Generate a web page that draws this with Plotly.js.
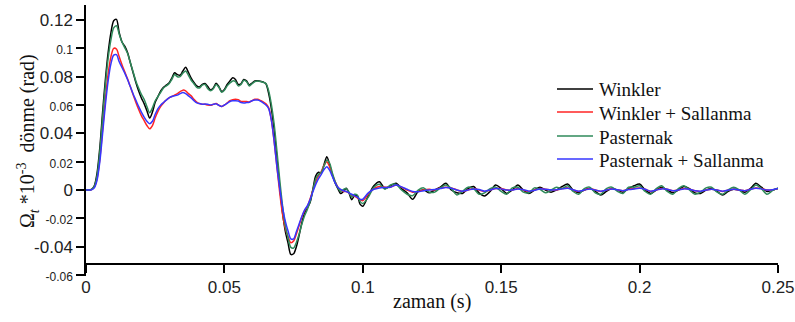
<!DOCTYPE html>
<html>
<head>
<meta charset="utf-8">
<script src="https://cdn.plot.ly/plotly-3.0.1.min.js"></script>
<style>html,body{margin:0;padding:0;background:#fff;}</style>
</head>
<body>
<div id="chart"></div>
<script>
// time (s), early part (step 0.001)
const timeEarly = [0,0.001,0.002,0.003,0.004,0.005,0.006,0.007,0.008,0.009,
0.010,0.011,0.012,0.013,0.014,0.015,0.016,0.017,0.018,0.019,
0.020,0.021,0.022,0.023,0.024,0.025,0.026,0.027,0.028,0.029,
0.030,0.031,0.032,0.033,0.034,0.035,0.036,0.037,0.038,0.039,
0.040,0.041,0.042,0.043,0.044,0.045,0.046,0.047,0.048,0.049,
0.050,0.051,0.052,0.053,0.054,0.055,0.056,0.057,0.058,0.059,
0.060,0.061,0.062,0.063,0.064,0.065,0.066,0.067,0.068,0.069,
0.070,0.071,0.072,0.073,0.074,0.075,0.076,0.077,0.078,0.079,
0.080,0.081,0.082,0.083,0.084,0.085,0.086,0.087,0.088,0.089,
0.090,0.091,0.092,0.093,0.094,0.095,0.096,0.097,0.098,0.099,0.100];
// time (s), tail part (step 0.002)
const timeTail = [0.102,0.104,0.106,0.108,0.110,0.112,0.114,0.116,0.118,0.120,
0.122,0.124,0.126,0.128,0.130,0.132,0.134,0.136,0.138,0.140,
0.142,0.144,0.146,0.148,0.150,0.152,0.154,0.156,0.158,0.160,
0.162,0.164,0.166,0.168,0.170,0.172,0.174,0.176,0.178,0.180,
0.182,0.184,0.186,0.188,0.190,0.192,0.194,0.196,0.198,0.200,
0.202,0.204,0.206,0.208,0.210,0.212,0.214,0.216,0.218,0.220,
0.222,0.224,0.226,0.228,0.230,0.232,0.234,0.236,0.238,0.240,
0.242,0.244,0.246,0.248,0.250];

const winklerEarly = [0,0,0.0005,0.003,0.012,0.030,0.055,0.078,0.097,0.111,
0.1195,0.1205,0.111,0.1045,0.1015,0.097,0.090,0.083,0.076,0.070,
0.065,0.061,0.056,0.0508,0.055,0.062,0.066,0.070,0.0725,0.074,
0.0755,0.079,0.0828,0.0815,0.081,0.084,0.0866,0.083,0.079,0.076,
0.0735,0.0728,0.0745,0.0752,0.073,0.0706,0.072,0.0753,0.073,0.0695,
0.071,0.0745,0.077,0.0792,0.078,0.0745,0.075,0.078,0.077,0.0742,
0.0755,0.077,0.0772,0.0768,0.0762,0.075,0.068,0.057,0.042,0.022,
0.002,-0.016,-0.029,-0.0375,-0.0455,-0.045,-0.040,-0.032,-0.023,-0.016,
-0.0125,-0.0085,0.001,0.010,0.0125,0.012,0.018,0.0235,0.018,0.0105,
0.005,0.001,-0.0025,-0.001,0.0012,-0.002,-0.0068,-0.004,-0.004,-0.010,-0.0115];
const winklerTail = [-0.004,0.003,0.0058,0.001,0.003,0.0047,0.001,-0.002,-0.0066,-0.001,
0.000,-0.002,0.000,0.002,0.0047,0.000,-0.002,-0.0024,0.001,0.0025,
-0.002,-0.0042,-0.001,0.0035,0.001,-0.0024,0.000,0.0035,0.000,-0.0024,
0.000,0.002,0.000,-0.0015,0.000,0.0025,0.0042,0.000,-0.002,0.000,
0.001,-0.001,-0.0035,-0.001,0.001,0.000,-0.0015,0.001,0.003,0.0042,
0.000,-0.0024,0.000,0.002,0.000,-0.002,0.000,0.0025,0.001,-0.002,
-0.0024,0.000,0.001,-0.001,-0.0035,-0.001,0.0005,0.000,-0.0015,0.001,
0.0047,0.002,-0.001,0.000,0.001];

const winklerSEarly = [0,0,0.0003,0.002,0.008,0.022,0.043,0.064,0.082,0.094,
0.100,0.0995,0.094,0.0885,0.0835,0.0785,0.073,0.0675,0.062,0.057,
0.0525,0.049,0.0455,0.0432,0.0455,0.051,0.0555,0.059,0.0615,0.0635,
0.065,0.066,0.067,0.068,0.0695,0.0705,0.070,0.068,0.0665,0.064,
0.062,0.061,0.0605,0.0605,0.060,0.0598,0.0605,0.061,0.0598,0.059,
0.060,0.0615,0.063,0.0638,0.064,0.0638,0.0625,0.0625,0.0625,0.0622,
0.063,0.064,0.064,0.0632,0.0622,0.0608,0.058,0.049,0.034,0.016,
-0.002,-0.017,-0.027,-0.033,-0.0372,-0.036,-0.031,-0.025,-0.019,-0.0145,
-0.0115,-0.006,0.000,0.006,0.010,0.013,0.0175,0.020,0.0165,0.011,
0.006,0.002,0.000,-0.001,-0.001,-0.002,-0.004,-0.0045,-0.0055,-0.007,-0.0075];
const winklerSTail = [-0.003,0.001,0.0025,0.002,0.002,0.0035,0.002,0.000,-0.0015,-0.001,
0.000,0.0005,0.000,0.0015,0.002,0.0015,0.000,-0.001,0.000,0.001,
0.000,-0.001,0.000,0.001,0.001,0.000,0.000,0.001,0.000,-0.001,
0.000,0.001,0.0005,0.000,0.000,0.001,0.0015,0.000,-0.001,0.000,
0.001,0.000,-0.001,0.000,0.001,0.000,-0.0005,0.0005,0.001,0.0015,
0.0005,-0.001,0.000,0.001,0.0005,-0.0005,0.000,0.001,0.0005,-0.0005,
-0.001,0.000,0.0005,0.000,-0.001,0.000,0.0005,0.000,-0.0005,0.0005,
0.0015,0.001,0.000,0.000,0.001];

const pasternakEarly = [0,0,0.0004,0.0025,0.010,0.027,0.051,0.074,0.093,0.106,
0.1145,0.116,0.110,0.1045,0.1005,0.0965,0.090,0.0835,0.077,0.072,
0.0675,0.064,0.059,0.0545,0.058,0.063,0.066,0.069,0.072,0.0735,
0.075,0.078,0.0815,0.080,0.080,0.0825,0.084,0.081,0.0775,0.075,
0.0725,0.072,0.074,0.0745,0.0715,0.070,0.0715,0.0745,0.0725,0.069,
0.0705,0.0735,0.0755,0.077,0.0765,0.0735,0.0745,0.0775,0.0765,0.0735,
0.075,0.0765,0.077,0.0765,0.076,0.0752,0.070,0.060,0.046,0.027,
0.007,-0.011,-0.025,-0.034,-0.0405,-0.041,-0.037,-0.031,-0.024,-0.018,
-0.0135,-0.008,0.000,0.008,0.011,0.0125,0.017,0.021,0.019,0.012,
0.006,0.0015,-0.001,0.0005,0.001,-0.0015,-0.005,-0.003,-0.0035,-0.008,-0.0095];
const pasternakTail = [-0.005,0.002,0.004,0.0005,0.0035,0.004,0.000,-0.003,-0.004,0.000,
0.0015,-0.0015,-0.0015,0.0015,0.0035,0.001,-0.0035,-0.001,0.002,0.001,
-0.003,-0.002,0.001,0.002,-0.001,-0.003,0.0015,0.002,-0.0015,-0.002,
0.0015,0.0005,-0.002,0.000,0.002,0.001,0.003,-0.001,-0.003,0.001,
0.002,-0.002,-0.003,0.001,0.002,-0.001,-0.0025,0.002,0.002,0.003,
-0.001,-0.003,0.001,0.003,-0.001,-0.003,0.001,0.003,0.000,-0.003,
-0.0015,0.0015,0.002,-0.0015,-0.003,0.000,0.002,0.000,-0.003,0.000,
0.0035,0.001,-0.003,-0.0005,0.0015];

const pasternakSEarly = [0,0,0.0002,0.0015,0.007,0.020,0.040,0.060,0.077,0.089,
0.0952,0.0955,0.0905,0.0865,0.0825,0.078,0.073,0.068,0.0635,0.059,
0.055,0.0515,0.0485,0.0468,0.0485,0.0535,0.0575,0.060,0.0618,0.0635,
0.065,0.066,0.0665,0.067,0.068,0.0688,0.068,0.0665,0.065,0.063,
0.0615,0.061,0.0605,0.0607,0.0605,0.060,0.0605,0.0608,0.0598,0.059,
0.060,0.0612,0.0625,0.063,0.063,0.0628,0.0618,0.0615,0.0617,0.062,
0.063,0.0635,0.0635,0.0628,0.0615,0.060,0.0575,0.049,0.034,0.016,
0.001,-0.012,-0.022,-0.029,-0.0345,-0.0345,-0.0295,-0.024,-0.0185,-0.014,
-0.011,-0.0065,-0.001,0.004,0.008,0.011,0.0145,0.0165,0.014,0.0095,
0.005,0.002,0.0005,-0.0005,-0.001,-0.002,-0.003,-0.004,-0.005,-0.0065,-0.0065];
const pasternakSTail = [-0.002,0.0005,0.0015,0.0018,0.002,0.0035,0.0022,0.0005,-0.001,-0.0012,
-0.0005,0.000,0.0003,0.001,0.0018,0.0012,0.000,-0.0008,0.000,0.0008,
0.0003,-0.0008,0.000,0.001,0.0008,0.000,0.000,0.0008,0.0002,-0.0008,
-0.0002,0.0008,0.0005,0.000,0.0002,0.0008,0.0012,0.0002,-0.0008,0.000,
0.0008,0.000,-0.0008,0.000,0.0008,0.0002,-0.0005,0.0003,0.0008,0.0012,
0.0005,-0.0008,0.000,0.0008,0.0005,-0.0005,0.000,0.0008,0.0005,-0.0005,
-0.0008,0.000,0.0005,0.000,-0.0008,0.000,0.0005,0.000,-0.0005,0.0005,
0.0012,0.0008,0.000,0.0002,0.001];

const seriesNames = ['Winkler','Winkler + Sallanma','Pasternak','Pasternak + Sallanma'];
const seriesColors = ['#000000','#ff2424','#2f8a5a','#3636ff'];
const xTickVals = [0,0.05,0.1,0.15,0.2,0.25];
const xTickText = ['0','0.05','0.1','0.15','0.2','0.25'];
const yTickVals = [-0.06,-0.04,-0.02,0,0.02,0.04,0.06,0.08,0.1,0.12];
const yTickText = ['-0.06','-0.04','-0.02','0','0.02','0.04','0.06','0.08','0.1','0.12'];
const yTickMajor = [false,true,false,true,false,true,false,true,false,true];

const time = timeEarly.concat(timeTail);
const seriesValues = [
  winklerEarly.concat(winklerTail),
  winklerSEarly.concat(winklerSTail),
  pasternakEarly.concat(pasternakTail),
  pasternakSEarly.concat(pasternakSTail)
];

const traces = seriesNames.map((n,i)=>({
  x: time, y: seriesValues[i], name: n, type:'scatter', mode:'lines', showlegend:false,
  line:{color:seriesColors[i], width:1.5, shape:'spline', smoothing:0.8}
}));

const serifFamily = 'Times New Roman';
const sansFamily = 'Arial';

// plot-area pixel helpers (plot area: x 86..778, y 5..276)
const toPX = v => (v-86)/692;
const toPY = v => (276-v)/271;

// legend drawn as line samples + labels in paper coordinates
const legendRows = [89,112,136,159];
const shapes = seriesNames.map((n,i)=>({
  type:'line', xref:'paper', yref:'paper', x0:toPX(557), x1:toPX(593), y0:toPY(legendRows[i]), y1:toPY(legendRows[i]),
  line:{color:seriesColors[i], width:1.5}
}));
const annotations = seriesNames.map((n,i)=>({
  text:n, xref:'paper', yref:'paper', x:toPX(597), y:toPY(legendRows[i]+1), xanchor:'left', yanchor:'middle',
  showarrow:false, font:{family:serifFamily, size:19}
}));
annotations.push(
  {text:'Ω<sub><i>t</i></sub> *10<sup>-3</sup>  dönme (rad)', xref:'paper', yref:'paper',
   x:toPX(28), y:toPY(141), xanchor:'center', yanchor:'middle', textangle:-90, showarrow:false,
   font:{family:serifFamily, size:20}},
  {text:'zaman (s)', xref:'paper', yref:'paper', x:toPX(432), y:toPY(301),
   xanchor:'center', yanchor:'middle', showarrow:false, font:{family:serifFamily, size:20}}
);

const layout = {
  width:795, height:322,
  font:{family:serifFamily, color:'#111'},
  margin:{l:86, r:17, t:5, b:46},
  paper_bgcolor:'#ffffff', plot_bgcolor:'#ffffff',
  showlegend:false,
  xaxis:{range:[0,0.25], anchor:'free', position:0.0443, showline:true, linecolor:'#000', linewidth:1.5,
    ticks:'outside', ticklen:8, tickwidth:1.5, tickcolor:'#000', showgrid:false, zeroline:false,
    tickvals:xTickVals, ticktext:xTickText, tickfont:{family:sansFamily, size:17, color:'#222'}},
  yaxis:{range:[-0.0607,0.1306], showline:true, linecolor:'#000', linewidth:1.5,
    ticks:'outside', ticklen:8, tickwidth:1.5, tickcolor:'#000', showgrid:false, zeroline:false,
    tickvals:yTickVals,
    ticktext:yTickText.map((t,i)=> yTickMajor[i] ? t : '<span style="font-size:12px">'+t+'</span>'),
    tickfont:{family:sansFamily, size:17, color:'#222'}},
  shapes: shapes,
  annotations: annotations
};

Plotly.newPlot('chart', traces, layout, {displayModeBar:false});
</script>
</body>
</html>
